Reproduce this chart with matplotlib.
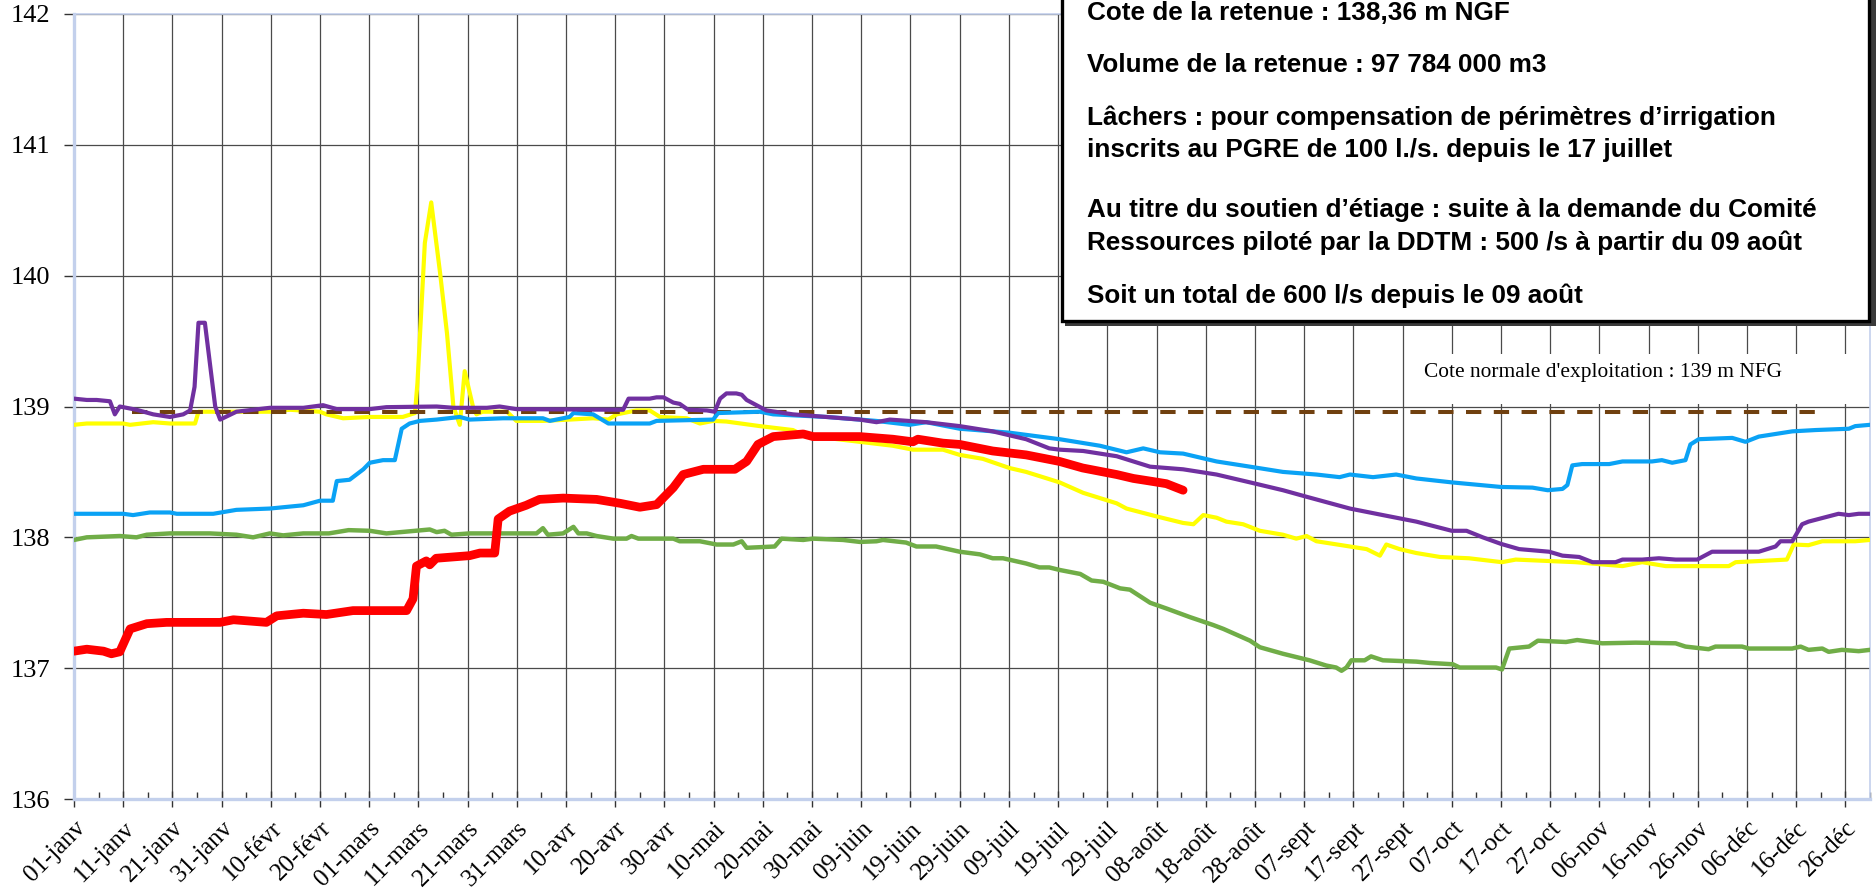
import matplotlib
matplotlib.use("Agg")
import matplotlib.pyplot as plt
from matplotlib.patches import Rectangle

# niveaux journaliers de la retenue (jour de l'annee, cote en m NGF)
annee_en_cours = [(0, 137.13), (2.6, 137.145), (6, 137.13), (7.6, 137.11), (9.3, 137.125), (11.4, 137.30),
                  (14.8, 137.34), (18.8, 137.35), (29.7, 137.35), (32.4, 137.37), (39.1, 137.35), (41.2, 137.40),
                  (46.6, 137.42), (51.3, 137.41), (56.7, 137.44), (67.6, 137.44), (68.9, 137.53), (69.6, 137.78),
                  (71.6, 137.82), (72.3, 137.79), (73.6, 137.84), (80.4, 137.86), (82.5, 137.88), (85.5, 137.88),
                  (86.2, 138.14), (88.5, 138.20), (91.9, 138.245), (94.6, 138.29), (99.4, 138.30), (106.2, 138.29),
                  (111, 138.26), (115, 138.23), (118.4, 138.25), (121.8, 138.38), (123.8, 138.48), (127.9, 138.52),
                  (134.3, 138.52), (136.7, 138.58), (139, 138.71), (142.1, 138.77), (148.2, 138.79), (150.2, 138.77),
                  (159.7, 138.77), (166.4, 138.75), (170.5, 138.73), (171.5, 138.75), (176.6, 138.72), (180, 138.71),
                  (186.7, 138.66), (193.5, 138.63), (200.3, 138.58), (205, 138.53), (211.9, 138.48), (215.3, 138.45),
                  (218.7, 138.43), (222, 138.41), (225.4, 138.36)]

serie_bleue = [(0, 138.18), (10, 138.18), (12, 138.17), (15.4, 138.19), (19.5, 138.19), (20.9, 138.18), (28.3, 138.18),
               (33, 138.21), (39.8, 138.22), (46.6, 138.245), (50, 138.28), (52.6, 138.28), (53.4, 138.43), (56, 138.44),
               (58.8, 138.52), (60.1, 138.57), (62.8, 138.59), (65.2, 138.59), (66.6, 138.83), (68.2, 138.87),
               (70.3, 138.89), (73.7, 138.90), (78.4, 138.92), (80.4, 138.90), (87.2, 138.91), (95.3, 138.91),
               (96.7, 138.89), (100.7, 138.92), (101.5, 138.95), (105.5, 138.94), (108.6, 138.87), (117, 138.87),
               (118.4, 138.89), (129.9, 138.90), (130.9, 138.95), (139.4, 138.96), (142.1, 138.94), (153, 138.92),
               (163, 138.89), (169.8, 138.86), (173.2, 138.88), (180, 138.83), (183.4, 138.82), (190.1, 138.80),
               (200.3, 138.75), (208.5, 138.70), (213.9, 138.65), (217.3, 138.68), (220.7, 138.65), (225.4, 138.64),
               (232.2, 138.58), (239, 138.54), (245.7, 138.50), (252.5, 138.48), (257.2, 138.46), (259.3, 138.48),
               (264, 138.46), (268.7, 138.48), (272.8, 138.45), (280, 138.42), (290, 138.385), (296.4, 138.38),
               (299.5, 138.36), (302.5, 138.37), (303.5, 138.40), (304.5, 138.55), (306.5, 138.56), (312, 138.56),
               (314.7, 138.58), (320.7, 138.58), (322.7, 138.59), (324.8, 138.57), (327.5, 138.59), (328.5, 138.71),
               (330.2, 138.75), (337, 138.76), (339.7, 138.73), (342.4, 138.77), (349.2, 138.81), (353.9, 138.82),
               (360.7, 138.83), (362, 138.85), (365, 138.86)]

serie_violette = [(0, 139.06), (2.6, 139.05), (4.6, 139.05), (7.3, 139.04), (8.3, 138.94), (9.3, 139.0), (12.7, 138.975),
                  (16.1, 138.94), (19.5, 138.92), (22.2, 138.94), (23.6, 138.97), (24.5, 139.15), (25.3, 139.64),
                  (26.6, 139.64), (28.7, 139.0), (29.7, 138.90), (33, 138.96), (39.8, 138.99), (46.6, 138.99),
                  (50.6, 139.01), (53.4, 138.98), (60.1, 138.98), (63.5, 138.995), (73.7, 139.0), (77.1, 138.99),
                  (83.9, 138.99), (86.5, 139.0), (89.9, 138.98), (111.6, 138.975), (112.7, 139.06), (117, 139.06),
                  (118.4, 139.07), (119.8, 139.07), (121.8, 139.03), (123.1, 139.02), (124.8, 138.975), (128.6, 138.97),
                  (130.2, 138.96), (131.3, 139.06), (132.6, 139.10), (134.6, 139.10), (135.7, 139.09), (136.7, 139.05),
                  (138.7, 139.01), (140.7, 138.97), (146.1, 138.94), (152.9, 138.92), (159.7, 138.90), (163.1, 138.88),
                  (165.8, 138.90), (173.2, 138.88), (180, 138.85), (186.7, 138.81), (193.5, 138.75), (198.2, 138.68),
                  (200.3, 138.67), (205.1, 138.66), (211.9, 138.62), (218.7, 138.54), (225.4, 138.52), (232.2, 138.48),
                  (239, 138.42), (245.7, 138.36), (250.5, 138.31), (259.3, 138.22), (266, 138.17), (272.8, 138.12),
                  (280, 138.05), (283, 138.05), (286.3, 138.0), (290, 137.95), (293.7, 137.91), (299.8, 137.89),
                  (302.5, 137.86), (305.9, 137.85), (308.6, 137.81), (313.3, 137.81), (314.7, 137.83), (318.7, 137.83),
                  (322.1, 137.84), (325.5, 137.83), (329.9, 137.83), (332.9, 137.89), (342.4, 137.89), (345.8, 137.93),
                  (346.8, 137.97), (349.2, 137.97), (351.2, 138.10), (352.5, 138.12), (358.6, 138.18), (360.7, 138.17),
                  (362.7, 138.18), (365, 138.18)]

serie_jaune = [(0, 138.86), (2.6, 138.87), (10, 138.87), (11.4, 138.86), (16.1, 138.88), (19.5, 138.87), (24.6, 138.87),
               (25.3, 138.96), (39.8, 138.96), (43.9, 138.975), (50, 138.96), (51.3, 138.94), (54.7, 138.91),
               (60.1, 138.92), (66.8, 138.92), (69.3, 138.95), (69.8, 139.18), (71.3, 140.25), (72.6, 140.56),
               (74.4, 140.02), (75.8, 139.56), (77.1, 139.0), (78.4, 138.86), (79.4, 139.27), (81.2, 138.98),
               (81.8, 138.94), (83, 138.96), (88, 138.96), (89.9, 138.89), (95.3, 138.89), (100.7, 138.90),
               (105.5, 138.91), (108.6, 138.90), (110.3, 138.94), (114.3, 138.97), (117, 138.97), (119.1, 138.92),
               (124.5, 138.91), (127.2, 138.87), (129.9, 138.89), (132.6, 138.885), (139.4, 138.85), (146.1, 138.82),
               (148.8, 138.77), (152.9, 138.76), (159.7, 138.73), (166.4, 138.70), (170.5, 138.67), (176.6, 138.67),
               (180, 138.63), (184.7, 138.60), (190.1, 138.53), (193.5, 138.50), (200.3, 138.42), (205.1, 138.34),
               (208.5, 138.30), (211.9, 138.26), (213.9, 138.22), (220, 138.16), (225.4, 138.11), (227.5, 138.10),
               (229.5, 138.17), (232.2, 138.15), (234.2, 138.12), (237.6, 138.10), (241, 138.05), (245.7, 138.02),
               (248.4, 137.99), (250.5, 138.01), (252.5, 137.97), (259.3, 137.93), (262.7, 137.91), (265.4, 137.86),
               (266.7, 137.945), (269.4, 137.91), (272.8, 137.88), (277.6, 137.85), (283.5, 137.84), (290.2, 137.81),
               (293, 137.83), (305.2, 137.81), (314.7, 137.78), (318.7, 137.81), (323.5, 137.78), (336.3, 137.78),
               (337.7, 137.81), (343.1, 137.82), (348.1, 137.83), (349.5, 137.945), (352.5, 137.94), (355.3, 137.97),
               (362, 137.97), (365, 137.98)]

serie_verte = [(0, 137.98), (2.6, 138.0), (9.3, 138.01), (12.7, 138.0), (14.8, 138.02), (19.5, 138.03), (27.6, 138.03),
               (33, 138.02), (36.4, 138.0), (39.8, 138.03), (42.5, 138.015), (46.6, 138.03), (51.8, 138.03),
               (55.8, 138.055), (60.1, 138.05), (63.5, 138.03), (72.3, 138.06), (73.7, 138.04), (75.3, 138.05),
               (76.7, 138.02), (80.4, 138.03), (94, 138.03), (95.3, 138.07), (96.3, 138.02), (99.4, 138.03),
               (101.5, 138.08), (102.5, 138.03), (104.2, 138.03), (106.2, 138.01), (109.6, 137.99), (112.3, 137.99),
               (113.3, 138.01), (114.7, 137.99), (121.8, 137.99), (123.1, 137.97), (127.2, 137.97), (130.6, 137.945),
               (134, 137.945), (135.7, 137.97), (136.7, 137.92), (142.4, 137.93), (143.8, 137.99), (148.2, 137.98),
               (150.2, 137.99), (156.3, 137.98), (159.7, 137.965), (163.1, 137.97), (164.4, 137.98), (169.1, 137.96),
               (171.2, 137.93), (175.2, 137.93), (180, 137.89), (184.1, 137.87), (186.7, 137.84), (188.8, 137.84),
               (193.5, 137.80), (196.2, 137.77), (198.2, 137.77), (200.4, 137.75), (204.5, 137.72), (206.8, 137.67),
               (209.2, 137.66), (212.6, 137.61), (214.6, 137.60), (218.7, 137.50), (222.1, 137.455), (226.8, 137.39),
               (231.5, 137.33), (233.6, 137.30), (239, 137.21), (241, 137.16), (245.7, 137.11), (251.1, 137.06),
               (254.5, 137.02), (256.5, 137.005), (257.6, 136.98), (258.6, 137.005), (259.6, 137.06), (262.3, 137.06),
               (263.6, 137.09), (266, 137.06), (272.8, 137.05), (275.5, 137.04), (280.2, 137.03), (281.6, 137.005),
               (289, 137.005), (290.2, 136.99), (291.7, 137.15), (295.7, 137.165), (297.5, 137.21), (303.2, 137.20),
               (305.5, 137.215), (310.6, 137.19), (317.4, 137.195), (325.5, 137.19), (327.5, 137.165), (332.2, 137.145),
               (333.6, 137.165), (339, 137.165), (340.4, 137.15), (349.2, 137.15), (350.9, 137.165), (352.5, 137.14),
               (355.3, 137.15), (356.6, 137.125), (359.3, 137.14), (362.7, 137.13), (365, 137.14)]

cote_normale_jours = [11.7, 356]
cote_normale = [138.96, 138.96]

jours_ticks = list(range(0, 361, 10))
etiquettes = ['01-janv', '11-janv', '21-janv', '31-janv', '10-févr', '20-févr', '01-mars', '11-mars', '21-mars',
              '31-mars', '10-avr', '20-avr', '30-avr', '10-mai', '20-mai', '30-mai', '09-juin', '19-juin', '29-juin',
              '09-juil', '19-juil', '29-juil', '08-août', '18-août', '28-août', '07-sept', '17-sept', '27-sept',
              '07-oct', '17-oct', '27-oct', '06-nov', '16-nov', '26-nov', '06-déc', '16-déc', '26-déc']

# lignes de l'encadre et position de leur ligne de base (px depuis le haut)
texte_encadre = [
    ('Cote de la retenue : 138,36 m NGF', 20),
    ('Volume de la retenue : 97 784 000 m3', 72),
    ('Lâchers : pour compensation de périmètres d\u2019irrigation', 125),
    ('inscrits au PGRE de 100 l./s. depuis le 17 juillet', 157),
    ('Au titre du soutien d\u2019étiage : suite à la demande du Comité', 217),
    ('Ressources piloté par la DDTM : 500 /s à partir du 09 août', 250),
    ('Soit un total de 600 l/s depuis le 09 août', 303),
]

W, H = 1876, 893
fig = plt.figure(figsize=(W / 100, H / 100), dpi=100)
ax = fig.add_axes([74 / W, 94 / H, 1796 / W, 785 / H])


def xy(serie):
    return [p[0] for p in serie], [p[1] for p in serie]


ax.plot(*xy(serie_verte), color='#70AD47', lw=3.2, zorder=3)
ax.plot(*xy(serie_jaune), color='#FFFF00', lw=3.0, zorder=3.1)
ax.plot(cote_normale_jours, cote_normale, color='#70400F', lw=2.9, dashes=(3.8, 3.1), zorder=3.2)
ax.plot(*xy(serie_bleue), color='#0AA2F5', lw=3.0, zorder=3.3)
ax.plot(*xy(serie_violette), color='#7030A0', lw=3.0, zorder=3.4)
ax.plot(*xy(annee_en_cours), color='#FF0000', lw=6.3, solid_capstyle='round', solid_joinstyle='round', zorder=3.5)

ax.set_xlim(0, 365)
ax.set_ylim(136, 142)
ax.set_yticks(range(136, 143))
ax.set_xticks(jours_ticks)
ax.set_xticks(range(5, 366, 10), minor=True)
ax.set_xticklabels(etiquettes, rotation=45, ha='right', va='top', rotation_mode='anchor',
                   family='Liberation Serif', fontsize=18)
for lab in ax.get_yticklabels():
    lab.set_family('Liberation Serif')
    lab.set_fontsize(19)
ax.tick_params(axis='y', length=7, width=1, color='#333333', pad=10)
ax.tick_params(axis='x', which='major', direction='inout', length=12, width=1, color='#333333', pad=7)
ax.tick_params(axis='x', which='minor', direction='in', length=5, width=1, color='#333333')
ax.set_axisbelow(True)
ax.grid(True, which='major', color='#4a4a4a', lw=0.9)
for cote, sp in ax.spines.items():
    sp.set_color('#C3D0EC')
    sp.set_linewidth(2.4 if cote in ('left', 'bottom') else 1.2)

# encadre d'information
fig.add_artist(Rectangle((1065 / W, 1 - 326 / H), 811 / W, 340 / H, transform=fig.transFigure,
                         facecolor='#3a3a3a', edgecolor='none', zorder=4))
fig.add_artist(Rectangle((1062 / W, 1 - 321 / H), 807 / W, 340 / H, transform=fig.transFigure,
                         facecolor='white', edgecolor='black', lw=2.4, zorder=5))
for ligne, y in texte_encadre:
    fig.text(1087 / W, 1 - y / H, ligne, family='Liberation Sans', fontweight='bold', fontsize=18.8,
             va='baseline', ha='left', zorder=6)

# etiquette de la cote normale
fig.add_artist(Rectangle((1410 / W, 1 - 404 / H), 445 / W, 50 / H, transform=fig.transFigure,
                         facecolor='white', edgecolor='none', zorder=1))
fig.text(1603 / W, 1 - 372 / H, "Cote normale d'exploitation : 139 m NFG", family='Liberation Serif',
         fontsize=15.4, ha='center', va='center', zorder=2)

fig.savefig('out.png', dpi=100, facecolor='white')
